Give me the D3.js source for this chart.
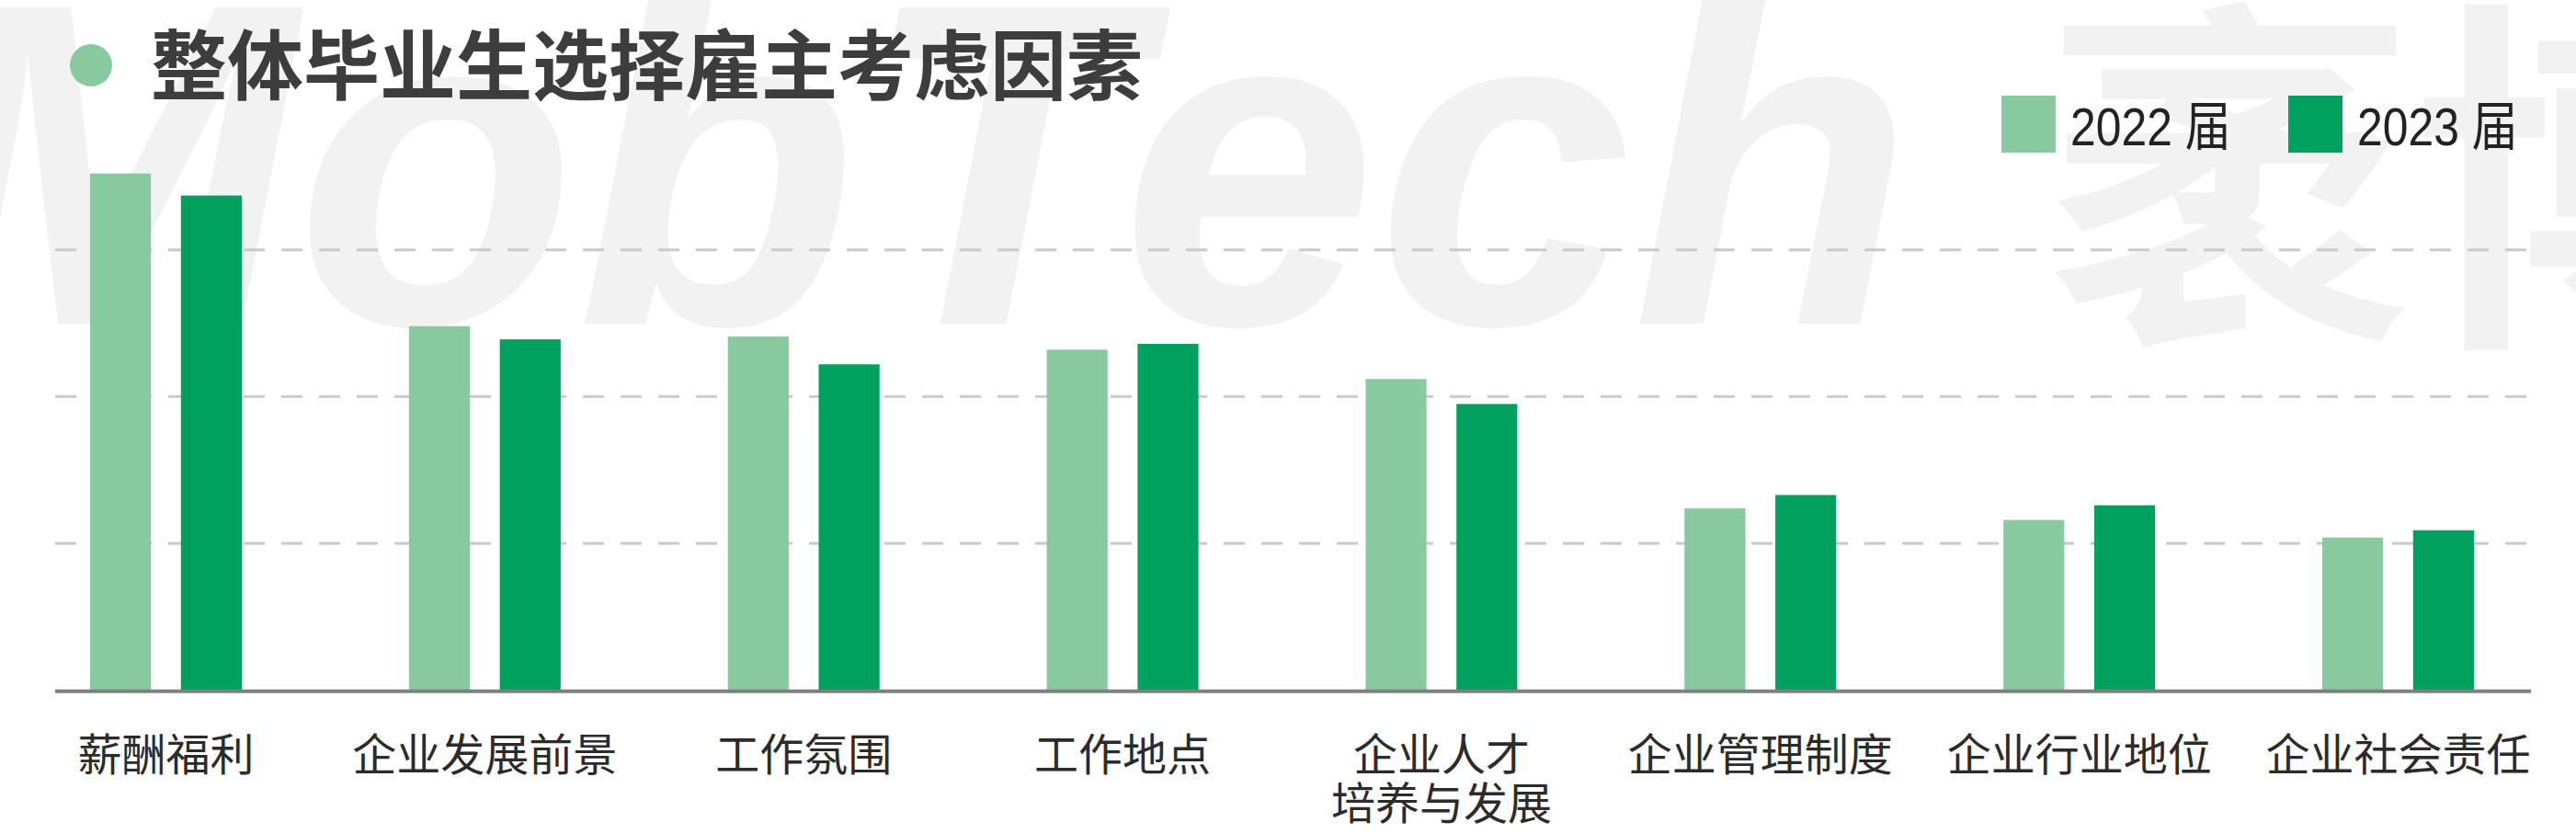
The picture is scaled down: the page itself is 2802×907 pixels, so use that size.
<!DOCTYPE html>
<meta charset="utf-8">
<style>
body { margin: 0; background: #fff; }
svg { display: block; }
.grid line { stroke: #cacaca; stroke-width: 3; stroke-dasharray: 23 18; }
.label { font-family: "Noto Sans CJK SC", sans-serif; font-size: 48px; fill: #2b2b2b; text-anchor: middle; }
.legend text { font-family: "Liberation Sans", Arial, "Noto Sans CJK SC", sans-serif; font-size: 58px; fill: #222; }
</style>
<body>
<script src="https://cdn.jsdelivr.net/npm/d3@7"></script>
<script>
// data (share of graduates, %)
var categories = [["薪酬福利"], ["企业发展前景"], ["工作氛围"], ["工作地点"],
                  ["企业人才", "培养与发展"], ["企业管理制度"], ["企业行业地位"], ["企业社会责任"]];
var seriesNames = ["2022 届", "2023 届"];
var values2022 = [35.2, 24.8, 24.1, 23.2, 21.2, 12.4, 11.6, 10.4];
var values2023 = [33.7, 23.9, 22.2, 23.6, 19.5, 13.3, 12.6, 10.9];
var gridTicks = [10, 20, 30];
var colors = ["#88c9a0", "#00a05e"];

var W = 2802, H = 907;

var svg = d3.select("body").append("svg")
    .attr("width", W)
    .attr("height", H);

// watermark behind everything
svg.append("text")
    .attr("x", -95).attr("y", 352)
    .style("font-family", "'Liberation Sans', Arial, sans-serif")
    .style("font-weight", "bold")
    .style("font-style", "italic")
    .style("font-size", "500px")
    .style("fill", "#f2f2f2")
    .text("MobTech");
svg.append("text")
    .attr("x", 2225).attr("y", 345)
    .style("font-family", "'Noto Sans CJK SC', sans-serif")
    .style("font-weight", "bold")
    .style("font-size", "400px")
    .style("fill", "#f2f2f2")
    .text("袤博");

var keys = categories.map(function(d) { return d.join(""); });

// scales
var x0 = d3.scaleBand()
    .domain(keys)
    .range([98, 2691])
    .paddingInner(0.5244)
    .paddingOuter(0);
var x1 = d3.scaleBand()
    .domain(seriesNames)
    .range([0, x0.bandwidth()])
    .paddingInner(0.33);
var y = d3.scaleLinear()
    .domain([0, 30])
    .range([750.7, 271.7]);

// dashed gridlines
svg.append("g").attr("class", "grid")
  .selectAll("line")
    .data(gridTicks)
  .enter().append("line")
    .attr("x1", 60).attr("x2", 2753)
    .attr("y1", function(d) { return y(d); })
    .attr("y2", function(d) { return y(d); });

// bars
var rows = keys.map(function(k, i) {
  return { key: k, vals: [values2022[i], values2023[i]] };
});
var groups = svg.selectAll(".grp")
    .data(rows)
  .enter().append("g")
    .attr("class", "grp")
    .attr("transform", function(d) { return "translate(" + x0(d.key) + ",0)"; });
groups.selectAll("rect")
    .data(function(d) { return d.vals.map(function(v, j) { return { s: seriesNames[j], v: v, j: j }; }); })
  .enter().append("rect")
    .attr("x", function(d) { return x1(d.s); })
    .attr("width", x1.bandwidth())
    .attr("y", function(d) { return y(d.v); })
    .attr("height", function(d) { return y(0) - y(d.v); })
    .attr("fill", function(d) { return colors[d.j]; });

// x axis line
svg.append("line")
    .attr("x1", 60).attr("x2", 2753)
    .attr("y1", y(0) + 1).attr("y2", y(0) + 1)
    .attr("stroke", "#808080")
    .attr("stroke-width", 4);

// category labels
var lab = svg.selectAll(".label")
    .data(categories)
  .enter().append("text")
    .attr("class", "label")
    .attr("x", function(d) { return x0(d.join("")) + x0.bandwidth() / 2; })
    .attr("y", 838);
lab.selectAll("tspan")
    .data(function(d) { return d; })
  .enter().append("tspan")
    .attr("x", function() { return d3.select(this.parentNode).attr("x"); })
    .attr("dy", function(d, i) { return i === 0 ? 0 : 53; })
    .text(function(d) { return d; });

// title
svg.append("circle")
    .attr("cx", 99).attr("cy", 71).attr("r", 23)
    .attr("fill", "#88c9a0");
svg.append("text")
    .attr("x", 164).attr("y", 102)
    .style("font-family", "'Noto Sans CJK SC', sans-serif")
    .style("font-weight", "bold")
    .style("font-size", "83px")
    .style("fill", "#3d3d3d")
    .text("整体毕业生选择雇主考虑因素");

// legend
var legendX = [2177, 2489];
var leg = svg.selectAll(".legend")
    .data(seriesNames)
  .enter().append("g")
    .attr("class", "legend")
    .attr("transform", function(d, i) { return "translate(" + legendX[i] + ",104)"; });
leg.append("rect")
    .attr("width", 59).attr("height", 62)
    .attr("fill", function(d, i) { return colors[i]; });
leg.append("text")
    .attr("transform", "translate(75,54) scale(0.86,1)")
    .text(function(d) { return d; });
</script>
</body>
